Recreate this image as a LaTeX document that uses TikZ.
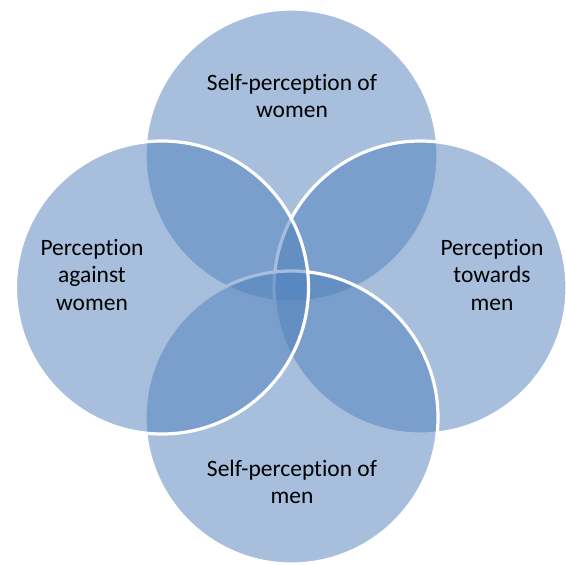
\documentclass[tikz,border=0pt]{standalone}
\usepackage{fontspec}
\setmainfont[Ligatures=NoCommon]{Carlito}
\begin{document}
\begin{tikzpicture}[x=0.75pt,y=-0.75pt,
  petal/.style={fill={rgb,255:red,79;green,127;blue,187}, fill opacity=0.5,
                draw=white, draw opacity=1, line width=2.4pt},
  label/.style={align=center, text=black, inner sep=0pt,
                font=\fontsize{17.6}{20.4}\selectfont}]
\useasboundingbox (0,0) rectangle (566,564);
% four overlapping circles, drawn top, right, bottom, left
\path[petal] (291.5,155.5) circle[radius=146.5];
\path[petal] (420.5,287.5) circle[radius=146.5];
\path[petal] (291.5,417.5) circle[radius=146.5];
\path[petal] (162,287.5) circle[radius=146.5];
% labels
\node[label] (sw) at (292,96) {Self-perception of\\women};
\node[label] (pw) at (92,275) {Perception\\against\\women};
\node[label] (pm) at (492,275) {Perception\\towards\\men};
\node[label] (sm) at (292,482) {Self-perception of\\men};
\end{tikzpicture}
\end{document}
